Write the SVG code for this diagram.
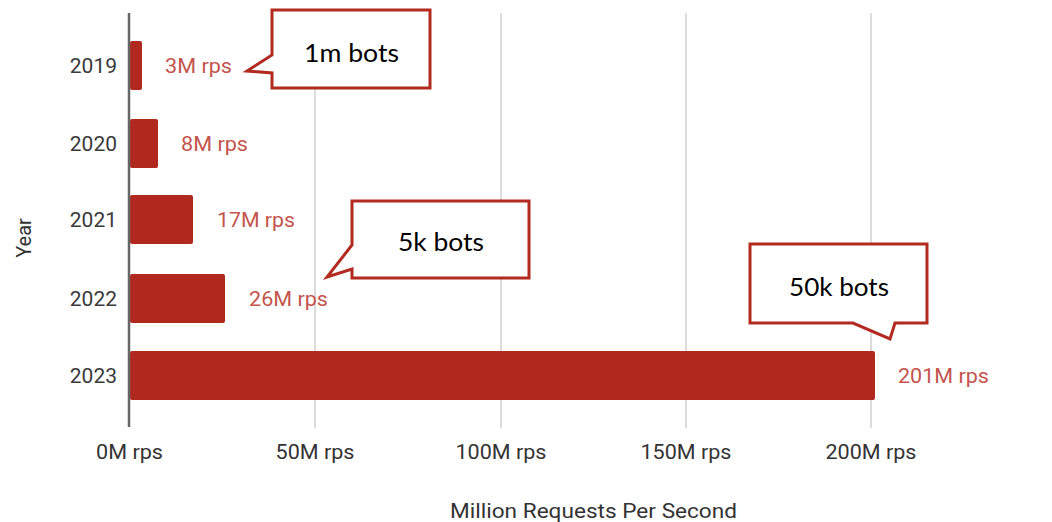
<svg xmlns="http://www.w3.org/2000/svg" width="1052" height="522" viewBox="0 0 1052 522">
<style>
.grid{stroke:#dcdcdc;stroke-width:2}
.tick{stroke:#cfcfcf;stroke-width:2}
.bar{fill:#b1281e}
.year{font-family:Roboto,"Liberation Sans",sans-serif;font-size:21px;fill:#3a3a3a;text-anchor:end}
.val{font-family:Roboto,"Liberation Sans",sans-serif;font-size:20px;fill:#c4544c}
.tk{font-family:Roboto,"Liberation Sans",sans-serif;font-size:20px;fill:#333;text-anchor:middle}
.ttl{font-family:Roboto,"Liberation Sans",sans-serif;font-size:20px;fill:#333;text-anchor:middle}
.co{fill:#fff;stroke:#b22a20;stroke-width:3;stroke-linejoin:miter}
.cot{font-family:Lato,"Open Sans",sans-serif;font-size:25px;fill:#000;text-anchor:middle}
</style>
<rect width="1052" height="522" fill="#fff"/>
<g id="gridlines">
<line class="grid" x1="315" y1="13" x2="315" y2="428"/>
<line class="grid" x1="501" y1="13" x2="501" y2="428"/>
<line class="grid" x1="686" y1="13" x2="686" y2="428"/>
<line class="grid" x1="871" y1="13" x2="871" y2="428"/>
</g>
<g id="bars">
<rect class="bar" x="130" y="41" width="12" height="49" rx="2"/>
<rect class="bar" x="130" y="119" width="28" height="49" rx="2"/>
<rect class="bar" x="130" y="195" width="63" height="49" rx="2"/>
<rect class="bar" x="130" y="274" width="95" height="49" rx="2"/>
<rect class="bar" x="130" y="351" width="745" height="49" rx="2"/>
</g>
<g id="axis">
<line x1="129" y1="13" x2="129" y2="427" stroke="#666" stroke-width="2.5"/>
</g>
<g id="years">
<text class="year" x="117" y="73">2019</text>
<text class="year" x="117" y="151">2020</text>
<text class="year" x="117" y="227">2021</text>
<text class="year" x="117" y="306">2022</text>
<text class="year" x="117" y="383">2023</text>
</g>
<g id="values">
<text class="val" x="165" y="73" textLength="67" lengthAdjust="spacingAndGlyphs">3M rps</text>
<text class="val" x="181" y="151" textLength="67" lengthAdjust="spacingAndGlyphs">8M rps</text>
<text class="val" x="217" y="227" textLength="78" lengthAdjust="spacingAndGlyphs">17M rps</text>
<text class="val" x="249" y="306" textLength="79" lengthAdjust="spacingAndGlyphs">26M rps</text>
<text class="val" x="898" y="383" textLength="91" lengthAdjust="spacingAndGlyphs">201M rps</text>
</g>
<g id="xticks">
<text class="tk" x="129.5" y="459" textLength="67" lengthAdjust="spacingAndGlyphs">0M rps</text>
<text class="tk" x="315" y="459" textLength="79" lengthAdjust="spacingAndGlyphs">50M rps</text>
<text class="tk" x="501" y="459" textLength="91" lengthAdjust="spacingAndGlyphs">100M rps</text>
<text class="tk" x="686" y="459" textLength="91" lengthAdjust="spacingAndGlyphs">150M rps</text>
<text class="tk" x="871" y="459" textLength="91" lengthAdjust="spacingAndGlyphs">200M rps</text>
</g>
<g id="axis-titles">
<text class="ttl" x="593.5" y="518" textLength="287" lengthAdjust="spacingAndGlyphs">Million Requests Per Second</text>
<text class="ttl" transform="translate(31,238) rotate(-90)" x="0" y="0">Year</text>
</g>
<g id="callout-1m">
<path class="co" d="M272,10 H430 V88 H272 V73 L247,71 L272,55 Z"/>
<text class="cot" x="351.5" y="62" textLength="95" lengthAdjust="spacingAndGlyphs">1m bots</text>
</g>
<g id="callout-5k">
<path class="co" d="M352,201 H529 V278 H352 V269 L327,277 L352,245 Z"/>
<text class="cot" x="441" y="251" textLength="86" lengthAdjust="spacingAndGlyphs">5k bots</text>
</g>
<g id="callout-50k">
<path class="co" d="M750,244 H927 V323 H895 L890,339 L853,323 H750 Z"/>
<text class="cot" x="839" y="296" textLength="100" lengthAdjust="spacingAndGlyphs">50k bots</text>
</g>
</svg>
